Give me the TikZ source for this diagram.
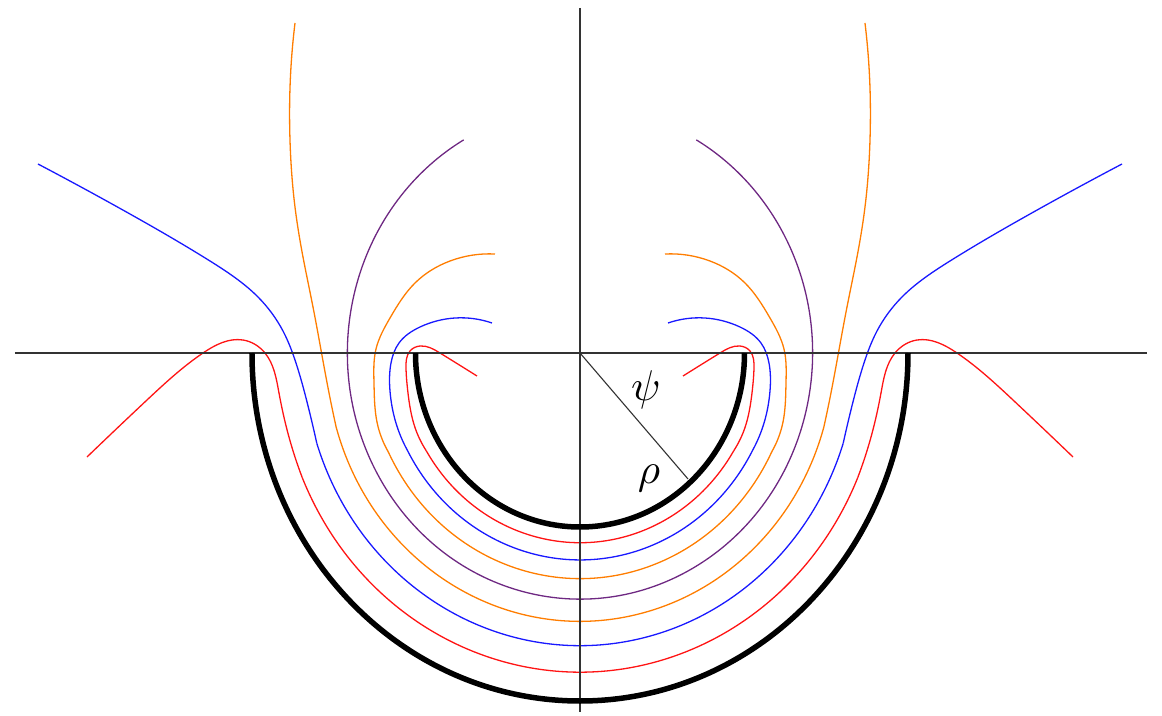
\documentclass[tikz,border=0pt]{standalone}
\usetikzlibrary{hobby}
\definecolor{fred}{RGB}{255,20,20}
\definecolor{fblue}{RGB}{25,25,255}
\definecolor{forange}{RGB}{255,125,0}
\definecolor{fpurple}{RGB}{110,40,130}
\newcommand\fieldline[6]{%
  \draw[field,#1,use Hobby shortcut] #2;
  \draw[field,#1,use Hobby shortcut,xscale=-1] #2;
  \draw[field,#1] (#3:#4 and #5) arc[start angle=#3, end angle=#6, x radius=#4pt, y radius=#5pt];
}
\begin{document}
\begin{tikzpicture}[x=1pt,y=1pt,
  field/.style={line width=1.3pt},
  wall/.style={line width=5.5pt,black},
  axisline/.style={line width=1.6pt,black!80},
  radline/.style={line width=1.1pt,black!80},
  lab/.style={scale=4.3,inner sep=0pt}]
\useasboundingbox (-580,-362) rectangle (582,353);
% field lines
\fieldline{fred}{(-103,-23) .. (-140,0) .. (-160,7) .. (-170,2) .. (-174,-15) .. (-172,-40) .. (203:179.4 and 189.7) .. (211:179.4 and 189.7)}{211}{179.4}{189.7}{329}
\fieldline{fblue}{(-88,30) .. (-125,35) .. (-160,26) .. (-181,10) .. (-189,-10) .. (-190,-38) .. (200:195.6 and 206.9) .. (208:195.6 and 206.9)}{208}{195.6}{206.9}{332}
\fieldline{forange}{(-85,99) .. (-130,92) .. (-165,70) .. (-190,35) .. (-204,4) .. (-206,-30) .. (198:213.3 and 225.6) .. (206:213.3 and 225.6)}{206}{213.3}{225.6}{334}
\draw[field,fpurple] (120:232.6 and 246.1) arc[start angle=120, end angle=420, x radius=232.6pt, y radius=246.1pt];
\fieldline{forange}{(-285,330) .. (-290,265) .. (-290,213) .. (-285,146) .. (-277,96) .. (-267,46) .. (189:253.7 and 268.3) .. (196:253.7 and 268.3)}{196}{253.7}{268.3}{344}
\fieldline{fblue}{(-542,189) .. (-450,139) .. (-370,92) .. (-322,56) .. (-297,22) .. (-284,-10) .. (190:276.7 and 292.6) .. (198:276.7 and 292.6)}{198}{276.7}{292.6}{342}
\fieldline{fred}{(-493,-104) .. (-433,-47) .. (-377,0) .. (-337,13) .. (-315,0) .. (-301,-40) .. (195:301.7 and 319.1) .. (203:301.7 and 319.1)}{203}{301.7}{319.1}{337}
% axes
\coordinate (xl) at (-565,0);
\coordinate (xr) at (567,0);
\coordinate (yt) at (0,345);
\coordinate (yb) at (0,-359);
\draw[axisline] (xl) -- (xr);
\draw[axisline] (yt) -- (yb);
% walls
\draw[wall] (180:164.5 and 174) arc[start angle=180, end angle=360, x radius=164.5pt, y radius=174pt];
\draw[wall] (180:328 and 348) arc[start angle=180, end angle=360, x radius=328pt, y radius=348pt];
% radius
\coordinate (O) at (0,0);
\coordinate (R) at (108,-126);
\draw[radline] (O) -- (R);
\node[lab] (psi) at (66,-37) {$\psi$};
\node[lab] (rho) at (69,-125) {$\rho$};
\end{tikzpicture}
\end{document}
